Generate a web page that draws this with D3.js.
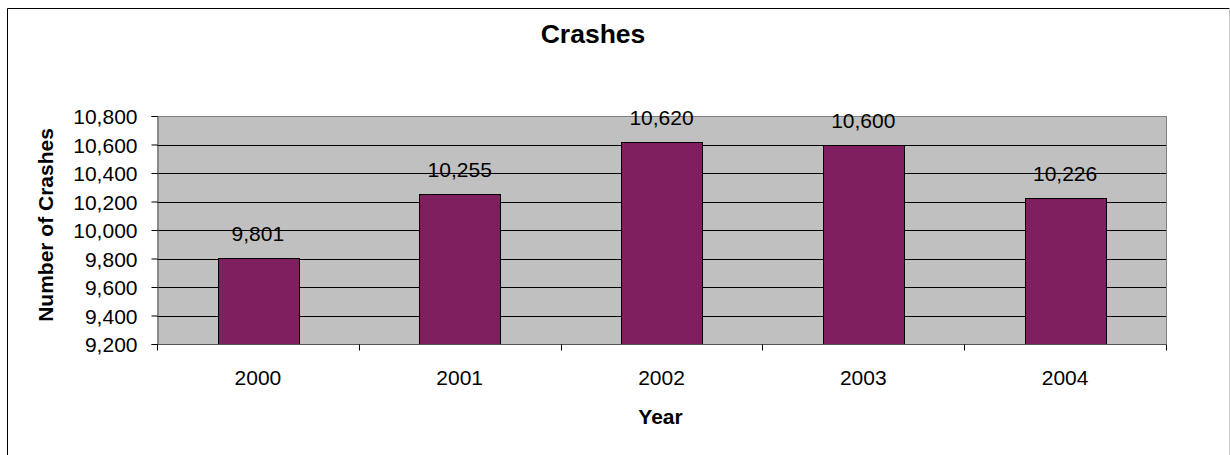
<!DOCTYPE html>
<html><head><meta charset="utf-8">
<script src="https://cdn.jsdelivr.net/npm/d3@7"></script>
<style>
html,body{margin:0;padding:0;background:#fff;}
svg text{font-family:Arial,"Liberation Sans",sans-serif;fill:#000;}
</style></head>
<body>
<svg id="c" width="1230" height="455"></svg>
<script>
const categories = ["2000","2001","2002","2003","2004"];
const values = [9801,10255,10620,10600,10226];
const yTicks = [9200,9400,9600,9800,10000,10200,10400,10600,10800];
const title = "Crashes";
const xTitle = "Year";
const yTitle = "Number of Crashes";

const svg = d3.select("#c");
const L = 157, R = 1166, T = 116, B = 344;
const fmt = d3.format(",");

// outer border
svg.append("line").attr("x1",7.5).attr("x2",7.5).attr("y1",8.5).attr("y2",455).attr("stroke","#000");
svg.append("line").attr("x1",7.5).attr("x2",1229.5).attr("y1",8.5).attr("y2",8.5).attr("stroke","#000");
svg.append("line").attr("x1",1229.5).attr("x2",1229.5).attr("y1",8.5).attr("y2",455).attr("stroke","#c8c8c8");

const x = d3.scaleBand().domain(categories).range([L,R]).paddingInner(0.6).paddingOuter(0.3);
const y = d3.scaleLinear().domain([9200,10800]).range([B,T]);

// plot background
svg.append("rect").attr("x",L).attr("y",T).attr("width",R-L).attr("height",B-T).attr("fill","#c0c0c0");

// gridlines
svg.append("g").selectAll("line").data(yTicks.slice(1,-1)).join("line")
  .attr("x1",L).attr("x2",R).attr("y1",d=>Math.round(y(d))+0.5).attr("y2",d=>Math.round(y(d))+0.5)
  .attr("stroke","#000").attr("stroke-width",1);
// plot border top/right
svg.append("line").attr("x1",L).attr("x2",R+0.5).attr("y1",T+0.5).attr("y2",T+0.5).attr("stroke","#808080");
svg.append("line").attr("x1",R+0.5).attr("x2",R+0.5).attr("y1",T).attr("y2",B).attr("stroke","#808080");

// bars
svg.append("g").selectAll("rect").data(values).join("rect")
  .attr("x",(d,i)=>Math.round(x(categories[i]))+0.5)
  .attr("y",d=>Math.round(y(d))+0.5)
  .attr("width",Math.round(x.bandwidth()))
  .attr("height",d=>B-Math.round(y(d)))
  .attr("fill","#7f1f5f").attr("stroke","#000").attr("stroke-width",1);

// y axis
const yAxis = d3.axisLeft(y).tickValues(yTicks).tickFormat(fmt).tickSize(6).tickPadding(14);
const gy = svg.append("g").attr("transform",`translate(${L+0.5},0)`).call(yAxis);
gy.select(".domain").attr("stroke","#555");
gy.selectAll(".tick line").attr("stroke","#000");
gy.selectAll("text").attr("font-size","21px").attr("font-family","Arial, 'Liberation Sans', sans-serif").attr("fill","#000").attr("dy","0.36em");

// x axis
const gx = svg.append("g").attr("transform",`translate(0,${B+0.5})`);
gx.append("line").attr("x1",L).attr("x2",R+0.5).attr("stroke","#555");
const bounds = d3.range(categories.length+1).map(i => L + i*x.step());
gx.selectAll("line.tk").data(bounds).join("line").attr("class","tk")
  .attr("x1",d=>Math.round(d)+0.5).attr("x2",d=>Math.round(d)+0.5).attr("y1",0).attr("y2",6).attr("stroke","#000");
gx.selectAll("text").data(categories).join("text")
  .attr("x",d=>x(d)+x.bandwidth()/2).attr("y",40).attr("text-anchor","middle")
  .attr("font-size","21px").text(d=>d);

// value labels
svg.append("g").selectAll("text").data(values).join("text")
  .attr("x",(d,i)=>x(categories[i])+x.bandwidth()/2)
  .attr("y",d=>y(d)-17).attr("text-anchor","middle")
  .attr("font-size","21px").text(d=>fmt(d));

// titles
svg.append("text").attr("x",593).attr("y",43).attr("text-anchor","middle")
  .attr("font-size","26.5px").attr("font-weight","bold").text(title);
svg.append("text").attr("x",660.5).attr("y",424).attr("text-anchor","middle")
  .attr("font-size","21px").attr("font-weight","bold").text(xTitle);
svg.append("text").attr("transform","translate(53,225) rotate(-90)").attr("text-anchor","middle")
  .attr("font-size","21px").attr("font-weight","bold").text(yTitle);
</script>
</body></html>
